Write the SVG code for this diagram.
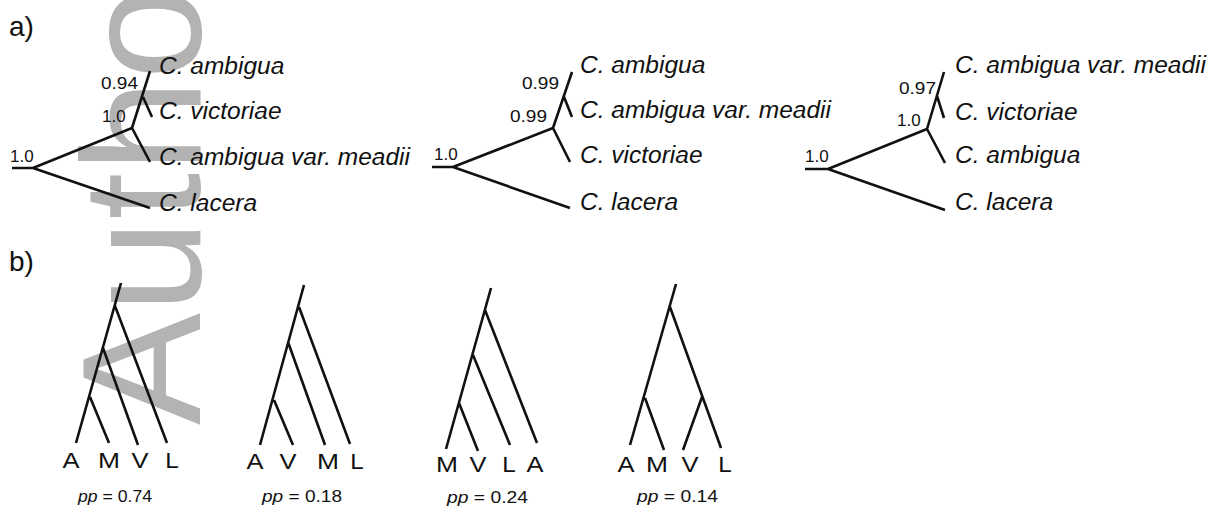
<svg xmlns="http://www.w3.org/2000/svg" width="1219" height="510" viewBox="0 0 1219 510">
  <style>
    .edge { fill: none; stroke: #111; stroke-width: 2.6; stroke-linecap: butt; stroke-linejoin: round; }
    .taxon { font-family: "Liberation Sans", Arial, sans-serif; font-style: italic; font-size: 24.5px; fill: #111; }
    .support { font-family: "Liberation Sans", Arial, sans-serif; font-size: 17px; fill: #111; }
    .panel { font-family: "Liberation Sans", Arial, sans-serif; font-size: 28px; fill: #111; }
    .tip { font-family: "Liberation Sans", Arial, sans-serif; font-size: 22.5px; fill: #111; }
    .pp { font-family: "Liberation Sans", Arial, sans-serif; font-size: 16px; fill: #111; }
    .mark { font-family: "Liberation Sans", Arial, sans-serif; font-size: 168px; fill: #b3b3b3; }
  </style>

  <rect width="1219" height="510" fill="#ffffff"/>

  <!-- background stamp, reading bottom to top -->
  <text class="mark" transform="translate(200,425) rotate(-90)">Author</text>

  <!-- panel letters -->
  <text class="panel" x="9" y="36">a)</text>
  <text class="panel" x="9" y="271">b)</text>

  <g id="connectors">
    <!-- a) tree 1 -->
    <path class="edge" d="M12,168 H33 L132,128 L150,71 M33,168 L150,208 M132,128 L150,162 M143,97 L152,117"/>
    <!-- a) tree 2 -->
    <path class="edge" d="M432,167 H453 L553,128 L572,72 M453,167 L570,208 M553,128 L570,162 M564,97 L572,117"/>
    <!-- a) tree 3 -->
    <path class="edge" d="M805,169 H828 L927,129 L944,72 M828,169 L945,210 M927,129 L945,163 M937,96 L944,118"/>

    <!-- b1: (((A,M),V),L) -->
    <path class="edge" d="M121,283 L76,443 M115,306 L167,443 M103,348 L138,445 M90,397 L109,443"/>
    <!-- b2: (((A,V),M),L) -->
    <path class="edge" d="M304,285 L260,445 M299,307 L350,444 M288,342 L325,445 M274,400 L293,445"/>
    <!-- b3: (((M,V),L),A) -->
    <path class="edge" d="M491,288 L446,449 M485,310 L537,443 M473,355 L510,445 M459,403 L478,451"/>
    <!-- b4: ((A,M),(V,L)) -->
    <path class="edge" d="M676,284 L630,445 M670,307 L721,448 M645,398 L664,450 M702,397 L683,450"/>
  </g>

  <g id="tree-a1">
    <text class="support" x="10" y="162">1.0</text>
    <text class="support" x="101" y="89" textLength="37" lengthAdjust="spacingAndGlyphs">0.94</text>
    <text class="support" x="102" y="122">1.0</text>
    <g id="a1-ambigua"><text class="taxon" x="159" y="74">C. ambigua</text></g>
    <g id="a1-victoriae"><text class="taxon" x="159" y="119">C. victoriae</text></g>
    <g id="a1-meadii"><text class="taxon" x="159" y="165">C. ambigua var. meadii</text></g>
    <g id="a1-lacera"><text class="taxon" x="159" y="211">C. lacera</text></g>
  </g>

  <g id="tree-a2">
    <text class="support" x="434" y="160">1.0</text>
    <text class="support" x="522" y="89" textLength="37" lengthAdjust="spacingAndGlyphs">0.99</text>
    <text class="support" x="510" y="122" textLength="37" lengthAdjust="spacingAndGlyphs">0.99</text>
    <g id="a2-ambigua"><text class="taxon" x="580" y="73">C. ambigua</text></g>
    <g id="a2-meadii"><text class="taxon" x="580" y="118">C. ambigua var. meadii</text></g>
    <g id="a2-victoriae"><text class="taxon" x="580" y="163">C. victoriae</text></g>
    <g id="a2-lacera"><text class="taxon" x="580" y="210">C. lacera</text></g>
  </g>

  <g id="tree-a3">
    <text class="support" x="805" y="162">1.0</text>
    <text class="support" x="899" y="94" textLength="37" lengthAdjust="spacingAndGlyphs">0.97</text>
    <text class="support" x="897" y="126">1.0</text>
    <g id="a3-meadii"><text class="taxon" x="955" y="73">C. ambigua var. meadii</text></g>
    <g id="a3-victoriae"><text class="taxon" x="955" y="120">C. victoriae</text></g>
    <g id="a3-ambigua"><text class="taxon" x="955" y="163">C. ambigua</text></g>
    <g id="a3-lacera"><text class="taxon" x="955" y="210">C. lacera</text></g>
  </g>

  <!-- tip letters are set slightly wide -->
  <g id="tree-b1" text-anchor="middle">
    <text class="tip" x="71" y="468" textLength="17" lengthAdjust="spacingAndGlyphs">A</text>
    <text class="tip" x="109" y="468" textLength="22" lengthAdjust="spacingAndGlyphs">M</text>
    <text class="tip" x="140" y="468" textLength="17" lengthAdjust="spacingAndGlyphs">V</text>
    <text class="tip" x="172" y="468" textLength="13.5" lengthAdjust="spacingAndGlyphs">L</text>
    <text class="pp" x="78" y="502" text-anchor="start" textLength="74" lengthAdjust="spacingAndGlyphs"><tspan font-style="italic">pp</tspan> = 0.74</text>
  </g>

  <g id="tree-b2" text-anchor="middle">
    <text class="tip" x="255" y="469" textLength="17" lengthAdjust="spacingAndGlyphs">A</text>
    <text class="tip" x="288" y="469" textLength="17" lengthAdjust="spacingAndGlyphs">V</text>
    <text class="tip" x="328" y="469" textLength="22" lengthAdjust="spacingAndGlyphs">M</text>
    <text class="tip" x="357" y="469" textLength="13.5" lengthAdjust="spacingAndGlyphs">L</text>
    <text class="pp" x="262" y="502" text-anchor="start" textLength="80" lengthAdjust="spacingAndGlyphs"><tspan font-style="italic">pp</tspan> = 0.18</text>
  </g>

  <g id="tree-b3" text-anchor="middle">
    <text class="tip" x="447" y="472" textLength="22" lengthAdjust="spacingAndGlyphs">M</text>
    <text class="tip" x="478" y="472" textLength="17" lengthAdjust="spacingAndGlyphs">V</text>
    <text class="tip" x="509" y="472" textLength="13.5" lengthAdjust="spacingAndGlyphs">L</text>
    <text class="tip" x="535" y="472" textLength="17" lengthAdjust="spacingAndGlyphs">A</text>
    <text class="pp" x="447" y="503" text-anchor="start" textLength="81" lengthAdjust="spacingAndGlyphs"><tspan font-style="italic">pp</tspan> = 0.24</text>
  </g>

  <g id="tree-b4" text-anchor="middle">
    <text class="tip" x="626" y="472" textLength="17" lengthAdjust="spacingAndGlyphs">A</text>
    <text class="tip" x="657" y="472" textLength="22" lengthAdjust="spacingAndGlyphs">M</text>
    <text class="tip" x="690" y="472" textLength="17" lengthAdjust="spacingAndGlyphs">V</text>
    <text class="tip" x="725" y="472" textLength="13.5" lengthAdjust="spacingAndGlyphs">L</text>
    <text class="pp" x="637" y="502" text-anchor="start" textLength="81" lengthAdjust="spacingAndGlyphs"><tspan font-style="italic">pp</tspan> = 0.14</text>
  </g>
</svg>
